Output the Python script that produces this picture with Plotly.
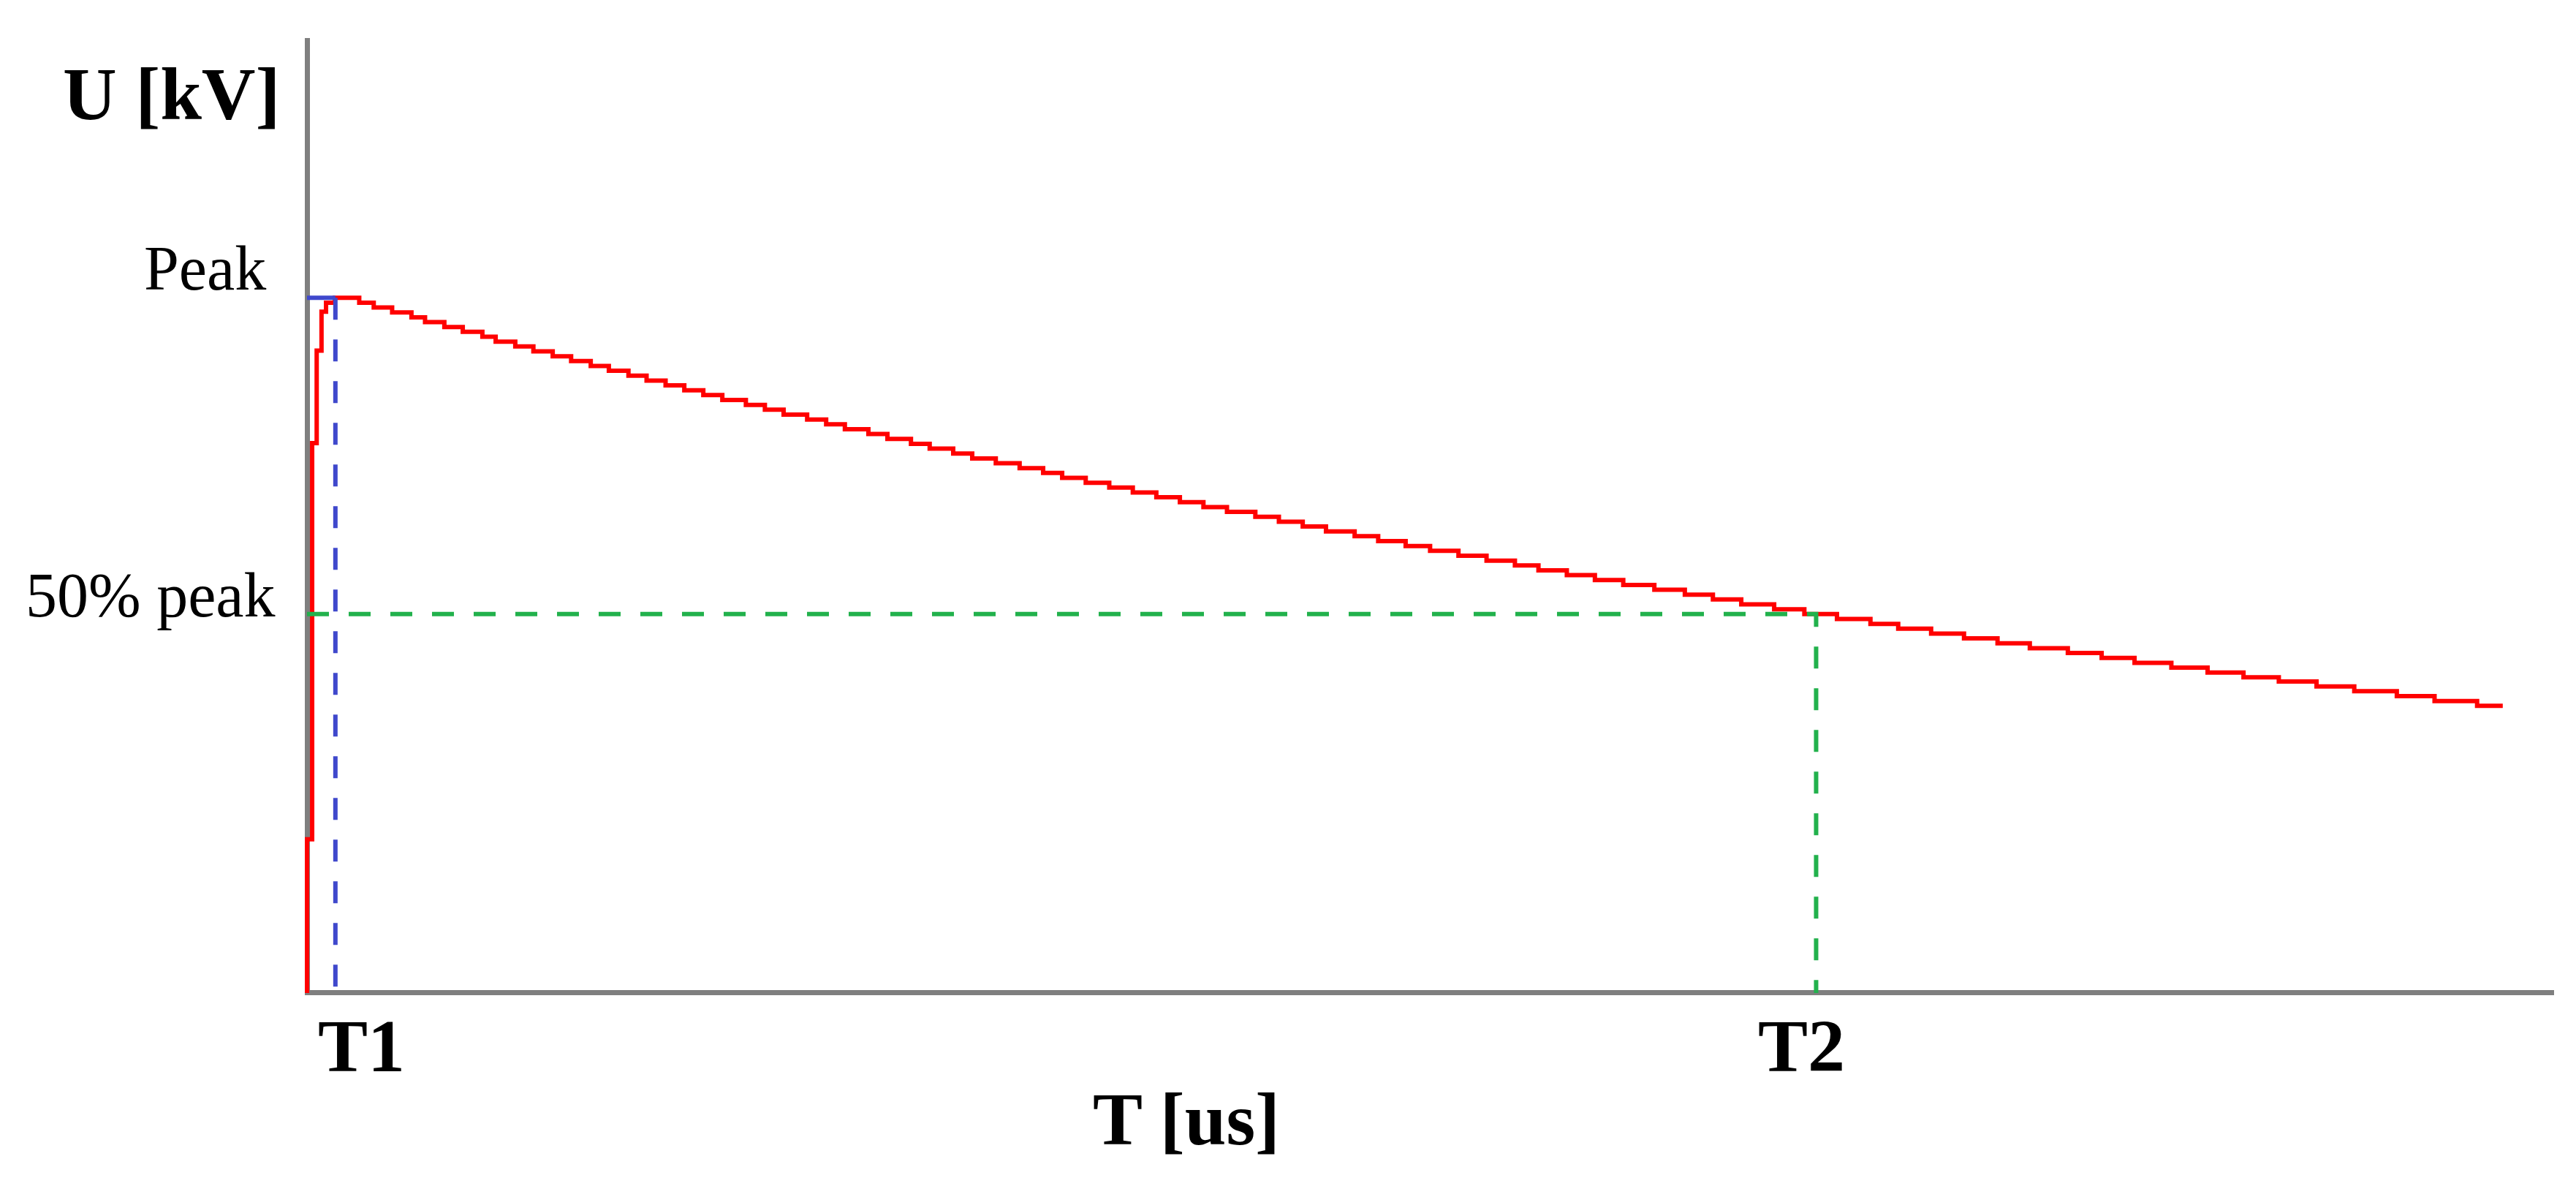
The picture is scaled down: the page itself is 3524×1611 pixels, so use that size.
import plotly.graph_objects as go

# rising front of the impulse (time in us, voltage in % of peak)
t_rise = [0, 0, 0.17, 0.32, 0.48, 0.63, 0.92]
u_rise = [0, 22.1, 79.1, 92.4, 98.0, 99.3, 100.0]

# decaying tail, read step by step off the staircase
t_tail = [1.73, 2.21, 2.82, 3.46, 3.91, 4.55, 5.16, 5.81, 6.25, 6.90,
          7.50, 8.14, 8.75, 9.40, 10.00, 10.65, 11.25, 11.88, 12.50, 13.13,
          13.76, 14.54, 15.17, 15.79, 16.57, 17.20, 17.82, 18.60, 19.23, 20.01,
          20.63, 21.41, 22.04, 22.82, 23.61, 24.39, 25.02, 25.80, 26.58, 27.36,
          28.14, 28.92, 29.70, 30.48, 31.42, 32.20, 32.99, 33.76, 34.71, 35.49,
          36.40, 37.21, 38.15, 39.08, 40.02, 40.80, 41.74, 42.67, 43.61, 44.64,
          45.65, 46.58, 47.52, 48.61, 49.61, 50.69, 51.80, 52.72, 53.81, 54.90,
          56.01, 57.08, 58.34, 59.46, 60.55, 61.77, 62.97, 64.16, 65.33, 66.58,
          67.83, 69.24, 70.49, 71.90, 72.75]
u_tail = [99.3, 98.6, 97.9, 97.2, 96.5, 95.8, 95.1, 94.4, 93.7, 93.0,
          92.3, 91.6, 90.9, 90.2, 89.5, 88.8, 88.1, 87.4, 86.7, 86.0,
          85.3, 84.6, 83.9, 83.2, 82.5, 81.8, 81.1, 80.4, 79.7, 79.0,
          78.3, 77.6, 76.9, 76.2, 75.5, 74.8, 74.1, 73.4, 72.7, 72.0,
          71.3, 70.6, 69.9, 69.2, 68.5, 67.8, 67.1, 66.4, 65.7, 65.0,
          64.3, 63.6, 62.9, 62.2, 61.5, 60.8, 60.1, 59.4, 58.7, 58.0,
          57.3, 56.6, 55.9, 55.2, 54.5, 53.8, 53.1, 52.4, 51.7, 51.0,
          50.3, 49.6, 48.9, 48.2, 47.5, 46.8, 46.1, 45.4, 44.8, 44.1,
          43.4, 42.7, 42.0, 41.3, 41.3]

# marker levels
peak_u = 100.0
half_u = 54.5
t1 = 0.94
t2 = 50.0

RED = "#FF0000"
BLUE = "#3F48CC"
GREEN = "#22B14C"
GREY = "#7F7F7F"
SERIF = "Liberation Serif"

fig = go.Figure()

# impulse waveform (staircase)
fig.add_trace(go.Scatter(
    x=t_rise + t_tail, y=u_rise + u_tail,
    mode="lines", line=dict(color=RED, width=6, shape="hv"),
    hoverinfo="skip", showlegend=False
))

# peak level and T1 marker
fig.add_trace(go.Scatter(
    x=[0, t1], y=[peak_u, peak_u],
    mode="lines", line=dict(color=BLUE, width=6),
    hoverinfo="skip", showlegend=False
))
fig.add_trace(go.Scatter(
    x=[t1, t1], y=[peak_u, 0],
    mode="lines", line=dict(color=BLUE, width=6, dash="30px,27px"),
    hoverinfo="skip", showlegend=False
))

# 50% level and T2 marker
fig.add_trace(go.Scatter(
    x=[0, t2, t2], y=[half_u, half_u, 0],
    mode="lines", line=dict(color=GREEN, width=6, dash="30px,27px"),
    hoverinfo="skip", showlegend=False
))

axis_common = dict(
    showgrid=False, showticklabels=False, ticks="", showline=False,
    zeroline=True, zerolinecolor=GREY, zerolinewidth=6.5, fixedrange=True
)
fig.update_xaxes(range=[-0.073, 74.45], **axis_common)
fig.update_yaxes(range=[-0.32, 137.37], **axis_common)

bold_font = dict(family=SERIF, size=102, color="black")
reg_font = dict(family=SERIF, size=86, color="black")

annotations = [
    dict(text="<b>U [kV]</b>", x=0, xref="x", xanchor="right", xshift=-35,
         y=1, yref="paper", yanchor="middle", yshift=-76, font=bold_font),
    dict(text="Peak", x=0, xref="x", xanchor="right", xshift=-54,
         y=peak_u, yref="y", yanchor="middle", yshift=40, font=reg_font),
    dict(text="50% peak", x=0, xref="x", xanchor="right", xshift=-42,
         y=half_u, yref="y", yanchor="middle", yshift=26, font=reg_font),
    dict(text="<b>T1</b>", x=t1, xref="x", xanchor="center", xshift=36,
         y=0, yref="y", yanchor="middle", yshift=-73, font=bold_font),
    dict(text="<b>T2</b>", x=t2, xref="x", xanchor="center", xshift=-20,
         y=0, yref="y", yanchor="middle", yshift=-73, font=bold_font),
    dict(text="<b>T [us]</b>", x=0.392, xref="paper", xanchor="center",
         y=0, yref="y", yanchor="middle", yshift=-173, font=bold_font),
]
for a in annotations:
    a["showarrow"] = False

fig.update_layout(
    width=3524, height=1611, autosize=False,
    margin=dict(l=409, r=38, t=44, b=258),
    paper_bgcolor="white", plot_bgcolor="white",
    annotations=annotations,
    showlegend=False
)

fig.write_html("out.html")
